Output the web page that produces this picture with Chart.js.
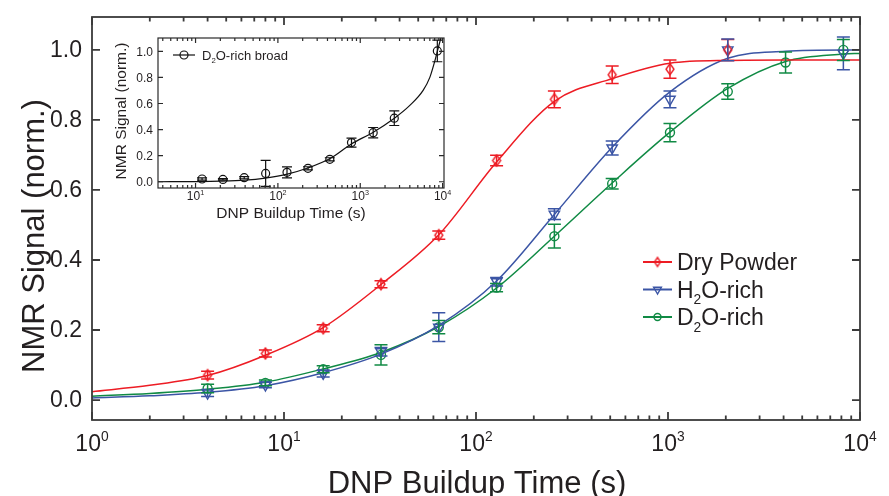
<!DOCTYPE html>
<html>
<head>
<meta charset="utf-8">
<script src="https://cdn.jsdelivr.net/npm/chart.js@4.4.1/dist/chart.umd.min.js"></script>
<style>
  html, body { margin: 0; padding: 0; background: #fff; }
  #wrap { position: relative; width: 889px; height: 496px; overflow: hidden; }
  #main { position: absolute; left: 0; top: 0; width: 889px; height: 496px; }
  #inset { position: absolute; left: 104px; top: 28px; width: 348px; height: 200px; }
</style>
</head>
<body>
<div id="wrap">
  <canvas id="main" width="889" height="496"></canvas>
  <canvas id="inset" width="348" height="200"></canvas>
</div>
<script>
const FONT = '"Liberation Sans", Arial, Helvetica, sans-serif';
const TEXT = '#231f20';

// measured points, buildup times in seconds
const pointTimes = [4, 8, 16, 32, 64, 128, 256, 512, 1024, 2048, 4096, 8192];
const dryPowder    = [0.071, 0.133, 0.205, 0.331, 0.471, 0.684, 0.859, 0.929, 0.945, 1.000, null, null];
const dryPowderErr = [0.011, 0.010, 0.010, 0.010, 0.012, 0.015, 0.024, 0.025, 0.026, 0.030, null, null];
const h2oRich      = [0.020, 0.043, 0.076, 0.138, 0.208, 0.338, 0.531, 0.720, 0.859, 1.000, null, 0.990];
const h2oRichErr   = [0.010, 0.008, 0.010, 0.012, 0.041, 0.012, 0.015, 0.020, 0.024, 0.031, null, 0.047];
const d2oRich      = [0.033, 0.049, 0.088, 0.129, 0.208, 0.321, 0.468, 0.618, 0.764, 0.881, 0.964, 1.000];
const d2oRichErr   = [0.012, 0.008, 0.010, 0.029, 0.019, 0.012, 0.034, 0.015, 0.026, 0.022, 0.030, 0.030];

// fitted buildup curves
const fitTimes = [1, 2, 4, 8, 16, 32, 64, 128, 256, 512, 1024, 2048, 4096, 8192, 10000];
const dryPowderFit = [0.024, 0.042, 0.070, 0.128, 0.207, 0.330, 0.472, 0.680, 0.853, 0.918, 0.962, 0.970, 0.971, 0.971, 0.971];
const h2oRichFit   = [0.006, 0.012, 0.022, 0.041, 0.078, 0.131, 0.213, 0.340, 0.530, 0.722, 0.880, 0.976, 0.996, 1.000, 1.000];
const d2oRichFit   = [0.011, 0.019, 0.031, 0.051, 0.089, 0.136, 0.210, 0.320, 0.468, 0.620, 0.765, 0.890, 0.967, 0.988, 0.990];

const seriesNames  = ['Dry Powder', 'H_2O-rich', 'D_2O-rich'];
const seriesColors = ['#ed1c24', '#3b55a5', '#108a44'];

const mainXExponents = [0, 1, 2, 3, 4];
const mainYTicks = [0, 0.2, 0.4, 0.6, 0.8, 1.0];

// inset: broad D2O component
const insetTimes  = [12, 21.5, 39, 71, 129, 232, 427, 783, 1436, 2590, 8630];
const insetSignal = [0.021, 0.018, 0.031, 0.064, 0.072, 0.103, 0.172, 0.300, 0.376, 0.487, 1.003];
const insetErr    = [0.008, 0.006, 0.008, 0.100, 0.042, 0.012, 0.012, 0.035, 0.040, 0.056, 0.083];
const insetFitTimes = [3.5, 10, 20, 40, 70, 130, 230, 430, 780, 1440, 2600, 4000, 5800, 7000, 8000, 8630, 9600];
const insetFit      = [0.000, 0.001, 0.004, 0.012, 0.028, 0.058, 0.105, 0.178, 0.290, 0.380, 0.487, 0.585, 0.700, 0.800, 0.920, 1.000, 1.110];
const insetName = 'D_2O-rich broad';
const insetXExponents = [1, 2, 3, 4];
const insetYTicks = [0, 0.2, 0.4, 0.6, 0.8, 1.0];

function pts(xs, ys, errs) {
    return xs.map((x, i) => ({ x: x, y: ys[i], err: errs ? errs[i] : 0 }))
             .filter(p => p.y !== null);
}

// hollow narrow diamond used as point style
function diamondMarker(color, w, h, lw) {
    const c = document.createElement('canvas');
    c.width = w + 4;
    c.height = h + 4;
    const g = c.getContext('2d');
    g.strokeStyle = color;
    g.lineWidth = lw;
    g.beginPath();
    g.moveTo(c.width / 2, 2);
    g.lineTo(c.width - 2, c.height / 2);
    g.lineTo(c.width / 2, c.height - 2);
    g.lineTo(2, c.height / 2);
    g.closePath();
    g.stroke();
    return c;
}

// "H_2O" -> subscript 2, "10^3" -> superscript 3
function drawRich(ctx, label, x, y, size, align) {
    const parts = [];
    label.split(/(_\d|\^\d)/).forEach(s => {
        if (!s) return;
        if (s[0] === '_') parts.push({ t: s.slice(1), shift: 'sub' });
        else if (s[0] === '^') parts.push({ t: s.slice(1), shift: 'sup' });
        else parts.push({ t: s });
    });
    const small = size * 0.6;
    let w = 0;
    parts.forEach(p => {
        ctx.font = (p.shift ? small : size) + 'px ' + FONT;
        p.w = ctx.measureText(p.t).width;
        w += p.w;
    });
    let cx = align === 'center' ? x - w / 2 : align === 'right' ? x - w : x;
    ctx.textAlign = 'left';
    ctx.textBaseline = 'alphabetic';
    parts.forEach(p => {
        ctx.font = (p.shift ? small : size) + 'px ' + FONT;
        const dy = p.shift === 'sub' ? size * 0.28 : p.shift === 'sup' ? -size * 0.45 : 0;
        ctx.fillText(p.t, cx, y + dy);
        cx += p.w;
    });
}

function makeFramePlugin(cfg) {
    return {
        id: 'frame',
        afterDatasetsDraw(chart) {
            const { ctx, scales: { x, y } } = chart;
            ctx.save();
            chart.data.datasets.forEach(ds => {
                if (!ds.errorColor) return;
                ctx.strokeStyle = ds.errorColor;
                ctx.lineWidth = cfg.errWidth;
                ctx.beginPath();
                ds.data.forEach(p => {
                    const px = x.getPixelForValue(p.x);
                    const top = y.getPixelForValue(p.y + p.err);
                    const bot = y.getPixelForValue(p.y - p.err);
                    ctx.moveTo(px, top); ctx.lineTo(px, bot);
                    ctx.moveTo(px - cfg.capHalf, top); ctx.lineTo(px + cfg.capHalf, top);
                    ctx.moveTo(px - cfg.capHalf, bot); ctx.lineTo(px + cfg.capHalf, bot);
                });
                ctx.stroke();
            });
            ctx.restore();
        },
        afterDraw(chart) {
            const { ctx, chartArea: a, scales: { x, y } } = chart;
            ctx.save();

            // inward ticks on all four sides
            ctx.strokeStyle = cfg.color;
            ctx.lineWidth = cfg.lineWidth;
            ctx.beginPath();
            const lo = Math.floor(Math.log10(x.min));
            const hi = Math.ceil(Math.log10(x.max));
            for (let d = lo; d <= hi; d++) {
                for (let m = 1; m < 10; m++) {
                    const v = m * Math.pow(10, d);
                    if (v < x.min || v > x.max) continue;
                    const px = x.getPixelForValue(v);
                    const len = m === 1 ? cfg.majorLen : cfg.minorLen;
                    ctx.moveTo(px, a.bottom); ctx.lineTo(px, a.bottom - len);
                    ctx.moveTo(px, a.top); ctx.lineTo(px, a.top + len);
                }
            }
            cfg.yTicks.forEach(v => {
                const py = y.getPixelForValue(v);
                ctx.moveTo(a.left, py); ctx.lineTo(a.left + cfg.yTickLen, py);
                ctx.moveTo(a.right, py); ctx.lineTo(a.right - cfg.yTickLen, py);
            });
            ctx.stroke();
            ctx.strokeRect(a.left, a.top, a.right - a.left, a.bottom - a.top);

            // tick labels
            ctx.fillStyle = TEXT;
            cfg.xExponents.forEach(e => {
                drawRich(ctx, '10^' + e, x.getPixelForValue(Math.pow(10, e)),
                         a.bottom + cfg.xLabelDrop, cfg.tickSize, 'center');
            });
            ctx.font = cfg.tickSize + 'px ' + FONT;
            ctx.textAlign = 'right';
            ctx.textBaseline = 'middle';
            cfg.yTicks.forEach(v => {
                ctx.fillText(v.toFixed(1), a.left - cfg.yLabelGap, y.getPixelForValue(v) + 1);
            });

            // axis titles
            ctx.font = cfg.titleSize + 'px ' + FONT;
            ctx.textAlign = 'center';
            ctx.textBaseline = 'alphabetic';
            ctx.fillText(cfg.xTitle, cfg.xTitleX, a.bottom + cfg.xTitleDrop);
            ctx.save();
            ctx.translate(cfg.yTitleX, cfg.yTitleY);
            ctx.rotate(-Math.PI / 2);
            ctx.textBaseline = 'middle';
            ctx.fillText(cfg.yTitle, 0, 0);
            ctx.restore();

            // legend
            const lg = cfg.legend;
            lg.items.forEach((it, i) => {
                const ly = lg.y + i * lg.rowGap;
                ctx.strokeStyle = it.color;
                ctx.lineWidth = lg.lineWidth;
                ctx.beginPath();
                ctx.moveTo(lg.x, ly);
                ctx.lineTo(lg.x + lg.lineLen, ly);
                ctx.stroke();
                ctx.fillStyle = 'rgba(0,0,0,0)';
                ctx.lineWidth = lg.markerWidth;
                Chart.helpers.drawPoint(ctx, {
                    pointStyle: it.pointStyle, rotation: it.rotation || 0,
                    radius: it.radius, borderWidth: lg.markerWidth
                }, lg.x + lg.lineLen / 2, ly);
                ctx.fillStyle = TEXT;
                drawRich(ctx, it.label, lg.x + lg.lineLen + lg.textGap, ly + lg.size * 0.36, lg.size, 'left');
            });
            ctx.restore();
        }
    };
}

// ---------- main chart ----------
const redDiamond = diamondMarker(seriesColors[0], 8, 11, 1.4);
const redDiamondSmall = diamondMarker(seriesColors[0], 6, 9, 1.4);

const markerStyles = [
    { pointStyle: redDiamond, radius: 5, rotation: 0 },
    { pointStyle: 'triangle', radius: 6, rotation: 180 },
    { pointStyle: 'circle', radius: 4.5, rotation: 0 }
];
const legendStyles = [
    { pointStyle: redDiamondSmall, radius: 4, rotation: 0 },
    { pointStyle: 'triangle', radius: 4.5, rotation: 180 },
    { pointStyle: 'circle', radius: 3.5, rotation: 0 }
];

const pointSets = [
    pts(pointTimes, dryPowder, dryPowderErr),
    pts(pointTimes, h2oRich, h2oRichErr),
    pts(pointTimes, d2oRich, d2oRichErr)
];
const fitSets = [
    pts(fitTimes, dryPowderFit),
    pts(fitTimes, h2oRichFit),
    pts(fitTimes, d2oRichFit)
];

const mainDatasets = [];
seriesNames.forEach((name, i) => {
    mainDatasets.push({
        label: name + ' fit',
        data: fitSets[i],
        borderColor: seriesColors[i],
        borderWidth: 1.5,
        pointRadius: 0,
        fill: false,
        cubicInterpolationMode: 'monotone'
    });
    mainDatasets.push({
        label: name,
        data: pointSets[i],
        showLine: false,
        borderColor: seriesColors[i],
        backgroundColor: 'rgba(0,0,0,0)',
        borderWidth: 1.4,
        pointStyle: markerStyles[i].pointStyle,
        pointRadius: markerStyles[i].radius,
        pointRotation: markerStyles[i].rotation,
        errorColor: seriesColors[i]
    });
});

const mainFrame = {
    color: '#3a3a3a', lineWidth: 1.8, errWidth: 1.5, capHalf: 6.5,
    majorLen: 8, minorLen: 4.5, yTickLen: 8,
    xExponents: mainXExponents, yTicks: mainYTicks,
    tickSize: 23, xLabelDrop: 31, yLabelGap: 10,
    titleSize: 31,
    xTitle: 'DNP Buildup Time (s)', xTitleX: 477, xTitleDrop: 73,
    yTitle: 'NMR Signal (norm.)', yTitleX: 35, yTitleY: 236,
    legend: {
        x: 643, y: 262, rowGap: 27.5, lineLen: 29, textGap: 5, size: 23,
        lineWidth: 2, markerWidth: 1.4,
        items: seriesNames.map((n, i) => Object.assign({ label: n, color: seriesColors[i] }, legendStyles[i]))
    }
};

new Chart(document.getElementById('main').getContext('2d'), {
    type: 'line',
    data: { datasets: mainDatasets },
    options: {
        responsive: false,
        animation: false,
        devicePixelRatio: 1,
        layout: { padding: { left: 92, right: 29, top: 17, bottom: 76 } },
        plugins: { legend: { display: false }, tooltip: { enabled: false } },
        scales: {
            x: { type: 'logarithmic', min: 1, max: 10000, display: false },
            y: { type: 'linear', min: -0.057, max: 1.094, display: false }
        }
    },
    plugins: [makeFramePlugin(mainFrame)]
});

// ---------- inset ----------
const insetFrame = {
    color: '#2a2a2a', lineWidth: 1.2, errWidth: 1.2, capHalf: 5,
    majorLen: 5, minorLen: 3, yTickLen: 5,
    xExponents: insetXExponents, yTicks: insetYTicks,
    tickSize: 12, xLabelDrop: 12, yLabelGap: 5,
    titleSize: 15.5,
    xTitle: 'DNP Buildup Time (s)', xTitleX: 187, xTitleDrop: 30,
    yTitle: 'NMR Signal (norm.)', yTitleX: 18, yTitleY: 83,
    legend: {
        x: 69, y: 27, rowGap: 0, lineLen: 22, textGap: 7, size: 13,
        lineWidth: 1.2, markerWidth: 1.2,
        items: [{ label: insetName, color: '#111', pointStyle: 'circle', radius: 4, rotation: 0 }]
    }
};

new Chart(document.getElementById('inset').getContext('2d'), {
    type: 'line',
    data: {
        datasets: [
            {
                label: 'broad fit',
                data: pts(insetFitTimes, insetFit),
                borderColor: '#111',
                borderWidth: 1.2,
                pointRadius: 0,
                fill: false,
                cubicInterpolationMode: 'monotone'
            },
            {
                label: 'broad',
                data: pts(insetTimes, insetSignal, insetErr),
                showLine: false,
                borderColor: '#111',
                backgroundColor: 'rgba(0,0,0,0)',
                borderWidth: 1.2,
                pointStyle: 'circle',
                pointRadius: 4,
                errorColor: '#111'
            }
        ]
    },
    options: {
        responsive: false,
        animation: false,
        devicePixelRatio: 1,
        layout: { padding: { left: 54, right: 8, top: 10, bottom: 40 } },
        plugins: { legend: { display: false }, tooltip: { enabled: false } },
        scales: {
            x: { type: 'logarithmic', min: 3.5, max: 10400, display: false },
            y: { type: 'linear', min: -0.048, max: 1.102, display: false }
        }
    },
    plugins: [makeFramePlugin(insetFrame)]
});
</script>
</body>
</html>
